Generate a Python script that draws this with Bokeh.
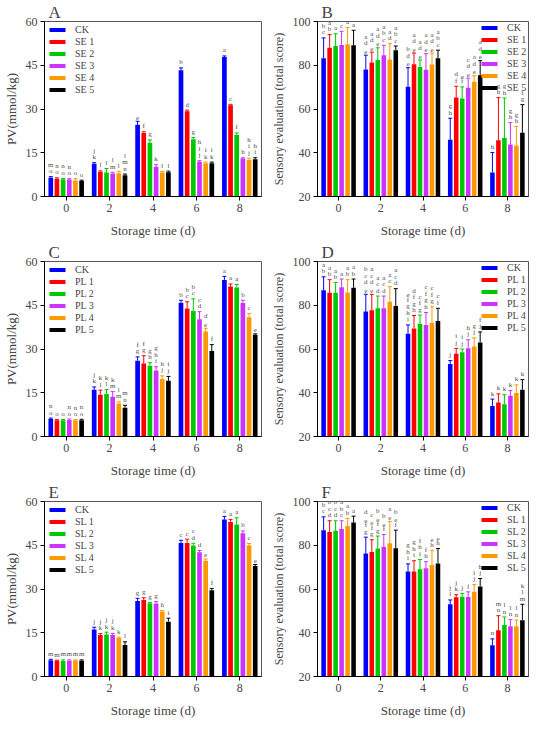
from bokeh.plotting import figure
from bokeh.models import (ColumnDataSource, FactorRange, Range1d, Whisker, TeeHead,
                          Legend, LegendItem, FixedTicker)
from bokeh.transform import dodge
from bokeh.layouts import gridplot
from bokeh.embed import file_html
from bokeh.resources import INLINE
from bokeh.core.properties import value

FONT = "Liberation Serif"

days = ["0", "2", "4", "6", "8"]
colors = ["#0000FF", "#FF0000", "#00C800", "#CC33FF", "#FF9900", "#000000"]

SE_names = ["CK", "SE 1", "SE 2", "SE 3", "SE 4", "SE 5"]
PL_names = ["CK", "PL 1", "PL 2", "PL 3", "PL 4", "PL 5"]
SL_names = ["CK", "SL 1", "SL 2", "SL 3", "SL 4", "SL 5"]

# ---- Panel A: PV, SE treatments ----
A_values = [[6.4, 11.2, 24.6, 43.3, 47.8],
            [6.1, 8.5, 21.8, 29.2, 31.3],
            [5.9, 8.2, 18.4, 19.6, 21.1],
            [5.8, 7.9, 10.2, 11.9, 13.0],
            [5.5, 8.0, 8.2, 11.4, 12.5],
            [5.3, 7.3, 8.3, 11.4, 12.8]]
A_errors = [[0.4, 0.4, 1.2, 0.8, 0.4],
            [0.3, 0.3, 0.4, 0.4, 0.3],
            [0.3, 1.4, 1.0, 0.6, 0.7],
            [0.3, 0.4, 0.7, 0.4, 0.3],
            [0.6, 0.6, 0.4, 0.4, 0.6],
            [0.3, 0.4, 0.4, 0.4, 0.5]]
A_letters = [["mo", "jk", "e", "b", "a"],
             ["no", "l", "f", "d", "c"],
             ["no", "l", "g", "g", "f"],
             ["no", "lm", "k", "hij", "h"],
             ["o", "l", "l", "ik", "hij"],
             ["o", "lmn", "l", "ik", "hi"]]

# ---- Panel B: sensory, SE treatments ----
B_values = [[83.2, 78.1, 70.2, 45.9, 31.0],
            [88.0, 81.3, 80.5, 65.3, 45.7],
            [88.8, 82.4, 79.2, 64.8, 46.7],
            [89.3, 84.6, 77.9, 69.7, 43.8],
            [89.6, 82.6, 80.3, 72.5, 43.3],
            [89.1, 86.9, 83.2, 75.4, 49.1]]
B_errors = [[9.3, 6.5, 8.7, 9.9, 9.1],
            [6.0, 4.7, 5.1, 5.1, 19.5],
            [5.6, 5.6, 3.2, 5.3, 18.3],
            [6.2, 4.5, 7.4, 4.4, 10.0],
            [7.7, 7.3, 5.3, 2.7, 8.7],
            [6.9, 1.9, 3.7, 6.7, 12.9]]
B_letters = [["abc", "ade", "bde", "gh", "h"],
             ["ab", "ade", "ade", "df", "gh"],
             ["a", "ade", "ade", "ef", "gh"],
             ["abc", "abc", "ade", "cde", "gh"],
             ["a", "ad", "ade", "ade", "gh"],
             ["a", "abc", "abc", "ade", "fg"]]

# ---- Panel C: PV, PL treatments ----
C_values = [[6.0, 16.0, 26.0, 45.9, 53.7],
            [5.6, 14.3, 25.0, 43.9, 51.4],
            [5.6, 14.6, 24.3, 43.0, 51.1],
            [5.7, 13.6, 22.6, 40.2, 45.8],
            [5.6, 11.3, 19.7, 36.0, 40.9],
            [5.6, 9.9, 19.1, 29.3, 34.9]]
C_errors = [[0.3, 1.0, 1.3, 0.8, 1.2],
            [0.2, 1.6, 2.7, 2.3, 0.9],
            [0.2, 1.5, 1.0, 4.2, 1.0],
            [0.3, 1.8, 1.3, 2.6, 0.9],
            [0.2, 0.6, 1.1, 1.1, 1.3],
            [0.3, 0.8, 1.5, 2.2, 0.3]]
C_letters = [["no", "jk", "fg", "b", "a"],
             ["o", "kl", "fg", "bc", "a"],
             ["o", "kl", "gh", "bc", "a"],
             ["no", "km", "ghi", "cd", "b"],
             ["no", "lm", "hj", "de", "c"],
             ["no", "mn", "ij", "f", "e"]]

# ---- Panel D: sensory, PL treatments ----
D_values = [[86.9, 77.1, 67.0, 53.2, 34.0],
            [85.7, 77.7, 69.4, 57.8, 35.5],
            [85.7, 78.6, 71.5, 58.5, 34.7],
            [88.2, 78.6, 71.0, 60.3, 38.6],
            [85.8, 81.6, 72.0, 61.1, 39.9],
            [88.0, 79.7, 72.8, 63.0, 41.4]]
D_errors = [[6.1, 7.9, 4.0, 1.5, 3.1],
            [6.0, 7.3, 5.9, 2.5, 4.0],
            [4.7, 5.6, 4.0, 1.5, 4.4],
            [3.8, 5.6, 5.7, 3.9, 2.4],
            [5.9, 6.9, 7.3, 4.0, 3.7],
            [4.0, 7.9, 5.8, 4.8, 4.6]]
D_letters = [["ab", "bcde", "efghi", "j", "k"],
             ["ab", "acde", "dfgh", "ij", "k"],
             ["ab", "acd", "cfg", "ij", "k"],
             ["a", "acd", "cfgh", "hj", "k"],
             ["ab", "ac", "cfg", "gj", "k"],
             ["ab", "acd", "cf", "fj", "k"]]

# ---- Panel E: PV, SL treatments ----
E_values = [[5.6, 16.1, 25.9, 45.8, 53.8],
            [5.4, 14.2, 26.2, 45.8, 53.0],
            [5.3, 14.4, 25.1, 44.9, 52.1],
            [5.4, 14.2, 25.0, 42.6, 49.1],
            [5.5, 13.2, 22.3, 39.7, 45.0],
            [5.4, 10.8, 18.8, 29.6, 37.9]]
E_errors = [[0.3, 0.8, 0.9, 0.9, 1.1],
            [0.2, 0.5, 0.8, 1.3, 0.8],
            [0.4, 0.8, 0.3, 0.8, 2.3],
            [0.3, 0.6, 0.7, 0.6, 0.8],
            [0.2, 0.3, 0.3, 0.6, 0.6],
            [0.3, 1.1, 1.2, 0.6, 0.5]]
E_letters = [["m", "j", "g", "c", "a"],
             ["m", "jk", "g", "c", "a"],
             ["m", "jk", "g", "cd", "a"],
             ["m", "jk", "g", "d", "b"],
             ["m", "k", "h", "e", "c"],
             ["m", "l", "i", "f", "e"]]

# ---- Panel F: sensory, SL treatments ----
F_values = [[86.9, 76.2, 68.0, 53.0, 34.3],
            [86.1, 76.9, 68.0, 56.2, 41.2],
            [86.6, 78.5, 69.0, 56.5, 43.6],
            [87.4, 79.3, 69.5, 56.4, 43.0],
            [88.8, 80.9, 71.0, 58.8, 43.0],
            [90.4, 78.6, 71.7, 61.2, 45.7]]
F_errors = [[6.1, 7.5, 3.5, 2.0, 2.9],
            [5.1, 5.6, 4.9, 1.2, 6.6],
            [4.6, 5.7, 4.5, 1.5, 3.6],
            [3.8, 5.6, 3.0, 2.3, 3.0],
            [3.5, 10.0, 6.7, 3.2, 2.8],
            [2.9, 8.3, 6.8, 3.6, 7.3]]
F_letters = [["abc", "defg", "ghi", "jl", "n"],
             ["abcd", "cefg", "ghi", "jk", "mn"],
             ["abcd", "befg", "fhi", "j", "ln"],
             ["abc", "bef", "fh", "j", "ln"],
             ["ab", "ae", "eh", "ij", "ln"],
             ["a", "bef", "eh", "hj", "klm"]]

PV_label = "PV(mmol/kg)"
SENS_label = "Sensory evaluation (total score)"
X_label = "Storage time (d)"
PV_range = (0, 60)
PV_ticks = [0, 15, 30, 45, 60]
SENS_range = (20, 100)
SENS_ticks = [20, 40, 60, 80, 100]

SLOT = 0.142
BAR_W = 0.108


def make_panel(letter, names, vals, errs, lets, ylabel, yr, yticks, legend_loc,
               left_border, ylabel_size):
    p = figure(x_range=FactorRange(*days, range_padding=0), y_range=Range1d(*yr),
               width=267, height=240, output_backend="svg", toolbar_location=None,
               min_border_left=left_border, min_border_right=6, min_border_top=0,
               min_border_bottom=0, title=letter)
    p.title.text_font = FONT
    p.title.text_font_size = "17px"
    p.title.text_font_style = "normal"
    p.title.align = "left"
    p.title.offset = 4
    p.title.standoff = 0
    p.outline_line_color = "#555555"
    p.outline_line_width = 1
    p.xgrid.grid_line_color = None
    p.ygrid.grid_line_color = None
    p.background_fill_color = "white"

    items = []
    for i, (nm, v, e, l) in enumerate(zip(names, vals, errs, lets)):
        off = (i - 2.5) * SLOT
        top = [a + b for a, b in zip(v, e)]
        src = ColumnDataSource(dict(day=days, v=v, top=top))
        r = p.vbar(x=dodge("day", off, range=p.x_range), top="v", bottom=yr[0],
                   width=BAR_W, fill_color=colors[i], line_color=None, source=src)
        items.append(LegendItem(label=nm, renderers=[r]))
        w = Whisker(base=dodge("day", off, range=p.x_range), lower="v", upper="top",
                    source=src, line_color=colors[i], line_width=1,
                    upper_head=TeeHead(size=4, line_color=colors[i], line_width=1),
                    lower_head=None)
        p.add_layout(w)
        xs, ys, yo, tx = [], [], [], []
        for d, t, s in zip(days, top, l):
            n = len(s)
            for k, ch in enumerate(s):
                xs.append(d)
                ys.append(t)
                yo.append(-1.5 - (n - 1 - k) * 6.5)
                tx.append(ch)
        lsrc = ColumnDataSource(dict(x=xs, y=ys, yo=yo, t=tx))
        p.text(x=dodge("x", off, range=p.x_range), y="y", text="t", y_offset="yo",
               source=lsrc, text_font=value(FONT), text_font_size="7px",
               text_align="center", text_baseline="bottom", text_color="#4d4d4d")

    legend = Legend(items=items, location=legend_loc, glyph_width=20, glyph_height=5,
                    label_height=10, spacing=1, padding=2,
                    margin=3 if legend_loc == "top_left" else 1,
                    label_standoff=8, background_fill_alpha=0, border_line_color=None,
                    label_text_font=FONT, label_text_font_size="10px")
    p.add_layout(legend)

    for ax in (p.xaxis[0], p.yaxis[0]):
        ax.axis_label_text_font = FONT
        ax.axis_label_text_font_style = "normal"
        ax.major_label_text_font = FONT
        ax.major_label_text_font_size = "12px"
        ax.major_label_standoff = 3
        ax.major_tick_out = 4
        ax.major_tick_in = 0
        ax.minor_tick_line_color = None
        ax.axis_line_color = "black"
        ax.major_tick_line_color = "black"
        ax.axis_label_standoff = 4
    p.xaxis.axis_label = X_label
    p.xaxis.axis_label_text_font_size = "13px"
    p.xaxis.axis_label_standoff = 8
    p.yaxis.axis_label = ylabel
    p.yaxis.axis_label_text_font_size = ylabel_size
    p.yaxis.ticker = FixedTicker(ticks=yticks)
    return p


pA = make_panel("A", SE_names, A_values, A_errors, A_letters, PV_label, PV_range,
                PV_ticks, "top_left", 36, "13px")
pB = make_panel("B", SE_names, B_values, B_errors, B_letters, SENS_label, SENS_range,
                SENS_ticks, "top_right", 50, "12px")
pC = make_panel("C", PL_names, C_values, C_errors, C_letters, PV_label, PV_range,
                PV_ticks, "top_left", 36, "13px")
pD = make_panel("D", PL_names, D_values, D_errors, D_letters, SENS_label, SENS_range,
                SENS_ticks, "top_right", 50, "12px")
pE = make_panel("E", SL_names, E_values, E_errors, E_letters, PV_label, PV_range,
                PV_ticks, "top_left", 36, "13px")
pF = make_panel("F", SL_names, F_values, F_errors, F_letters, SENS_label, SENS_range,
                SENS_ticks, "top_right", 50, "12px")

grid = gridplot([[pA, pB], [pC, pD], [pE, pF]], toolbar_location=None)

open("out.html", "w").write(file_html(grid, INLINE))
